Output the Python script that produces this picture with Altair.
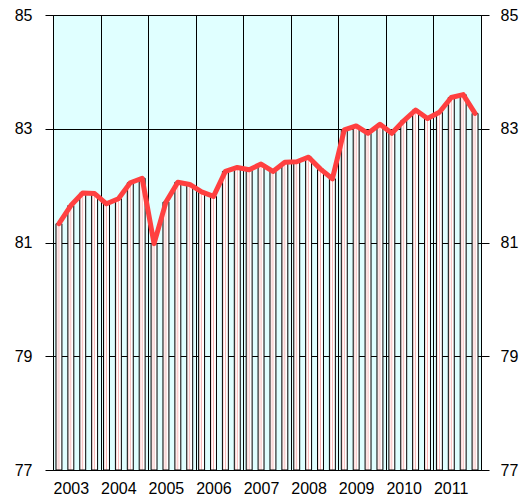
import altair as alt
import pandas as pd

years = ["2003", "2004", "2005", "2006", "2007", "2008", "2009", "2010", "2011"]
quarters = ["Q1", "Q2", "Q3", "Q4"]
values = [
    81.33, 81.65, 81.87, 81.86,
    81.68, 81.77, 82.05, 82.13,
    80.98, 81.71, 82.06, 82.02,
    81.89, 81.81, 82.25, 82.32,
    82.28, 82.38, 82.25, 82.41,
    82.42, 82.50, 82.29, 82.12,
    82.98, 83.05, 82.92, 83.08,
    82.92, 83.14, 83.33, 83.18,
    83.29, 83.55, 83.60, 83.27,
]
y_ticks = [77, 79, 81, 83, 85]

rows = []
for i, v in enumerate(values):
    rows.append({
        "period": f"{years[i // 4]} {quarters[i % 4]}",
        "x0": i + 0.25,
        "x1": i + 0.75,
        "xm": i + 0.5,
        "value": v,
    })
df = pd.DataFrame(rows)

n = len(values)
year_vals = list(range(0, n + 1, 4))
label_arr = "[" + ",".join(f"'{y}'" for y in years) + "]"
label_expr = f"datum.value < {n} ? {label_arr}[datum.value / 4] : ''"

FONT = "Liberation Sans"

xscale = alt.Scale(domain=[0, n], nice=False, zero=False)
yscale = alt.Scale(domain=[77, 85], nice=False, zero=False)

x_axis = alt.Axis(
    values=year_vals, labelExpr=label_expr, labelAlign="left", labelBaseline="top",
    labelPadding=10, ticks=False, domain=False, grid=True, gridColor="black",
    gridOpacity=1, gridWidth=1, labelFont=FONT, labelFontSize=16, labelColor="black",
    title=None, labelFlush=False, labelOverlap=False,
)

fill_grad = alt.Gradient(
    gradient="linear", x1=0, x2=1, y1=0, y2=0,
    stops=[
        alt.GradientStop(color="#ffffff", offset=0),
        alt.GradientStop(color="#fbd9d9", offset=0.2),
        alt.GradientStop(color="#ffffff", offset=0.35),
        alt.GradientStop(color="#f6b3b3", offset=0.5),
        alt.GradientStop(color="#ffffff", offset=0.65),
        alt.GradientStop(color="#ffffff", offset=1),
    ],
)

bars = alt.Chart(df).mark_bar(
    fill=fill_grad, stroke="black", strokeWidth=1
).encode(
    x=alt.X("x0:Q", scale=xscale, axis=x_axis),
    x2="x1:Q",
    y=alt.Y("value:Q", scale=yscale, axis=alt.Axis(
        values=y_ticks, orient="left", tickSize=8, tickColor="black", labelPadding=13,
        domain=False, grid=True, gridColor="black", gridOpacity=1, gridWidth=1,
        labelFont=FONT, labelFontSize=16, labelColor="black", title=None,
        labelFlush=False,
    )),
    y2=alt.datum(77),
)

line = alt.Chart(df).mark_line(
    color="#ff4040", strokeWidth=5, strokeJoin="round", strokeCap="round"
).encode(
    x=alt.X("xm:Q", scale=xscale),
    y=alt.Y("value:Q", scale=yscale, axis=alt.Axis(
        values=y_ticks, orient="right", tickSize=8, tickColor="black", labelPadding=11,
        domain=False, grid=False, labelFont=FONT, labelFontSize=16,
        labelColor="black", title=None, labelFlush=False,
    )),
)

chart = alt.layer(bars, line).properties(
    width=428, height=455,
    autosize=alt.AutoSizeParams(type="none"),
    padding={"left": 45, "top": 7, "right": 38, "bottom": 26},
    background="white",
).configure_view(
    fill="#e0ffff", stroke="black", strokeWidth=1
)

chart.save("out.html", embed_options={"renderer": "svg", "actions": False})
